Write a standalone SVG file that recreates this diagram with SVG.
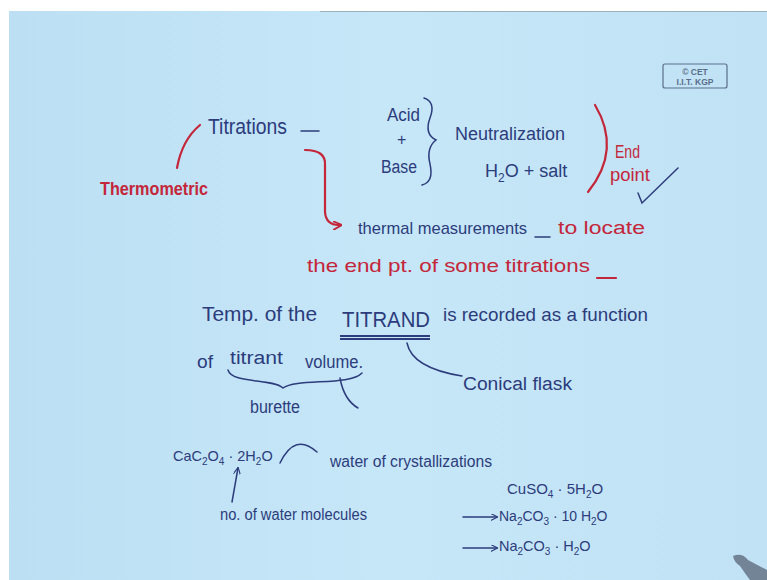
<svg xmlns="http://www.w3.org/2000/svg" width="767" height="580" viewBox="0 0 767 580">
<defs>
<linearGradient id="bg" x1="0" y1="0" x2="1" y2="0">
<stop offset="0" stop-color="#bcdff3"/>
<stop offset="0.5" stop-color="#c6e7f8"/>
<stop offset="1" stop-color="#c0e2f4"/>
</linearGradient>
<marker id="ah" viewBox="0 0 10 10" refX="9" refY="5" markerWidth="7" markerHeight="7" orient="auto" markerUnits="userSpaceOnUse">
<path d="M0,0 L10,5 L0,10" fill="none" stroke="#2c3c7c" stroke-width="1.6"/>
</marker>
<marker id="ahr" viewBox="0 0 10 10" refX="9" refY="5" markerWidth="9" markerHeight="9" orient="auto" markerUnits="userSpaceOnUse">
<path d="M0,0 L10,5 L0,10" fill="none" stroke="#c0283c" stroke-width="2"/>
</marker>
</defs>
<style>
.b{fill:#2c3c7c;font-family:"Liberation Sans",Arial,sans-serif}
.r{fill:#c4263a;font-family:"Liberation Sans",Arial,sans-serif}
.lb{fill:none;stroke:#2c3c7c;stroke-width:1.5;stroke-linecap:round}
.lr{fill:none;stroke:#c4263a;stroke-width:2.2;stroke-linecap:round}
.st{fill:#5a6e8c;font-family:"Liberation Sans",Arial,sans-serif;font-size:8.5px;font-weight:bold;text-anchor:middle}
.sub{font-size:10px}
</style>
<rect width="767" height="580" fill="#ffffff"/>
<rect x="9" y="11" width="758" height="569" fill="url(#bg)"/>
<line x1="320" y1="11.5" x2="767" y2="11.5" stroke="#7f9096" stroke-width="1" opacity="0.6"/>

<g id="stamp">
<rect x="663" y="64" width="64" height="24" rx="2" fill="none" stroke="#5a6e8c" stroke-width="1.2"/>
<text class="st" x="695" y="75">© CET</text>
<text class="st" x="695" y="85">I.I.T. KGP</text>
</g>

<g id="titrations"><text class="b" x="208" y="134" font-size="22" textLength="79" lengthAdjust="spacingAndGlyphs">Titrations</text>
<line class="lb" x1="301" y1="131" x2="319" y2="131"/></g>
<g id="thermometric"><text class="r" x="100" y="195" font-size="19" font-weight="bold" textLength="108" lengthAdjust="spacingAndGlyphs">Thermometric</text></g>
<g id="acidbase">
<text class="b" x="387" y="121" font-size="18" textLength="33" lengthAdjust="spacingAndGlyphs">Acid</text>
<text class="b" x="397" y="145" font-size="16">+</text>
<text class="b" x="381" y="173" font-size="18" textLength="36" lengthAdjust="spacingAndGlyphs">Base</text>
<path class="lb" d="M424,98 Q436,102 430,118 Q424,134 436,140 Q426,148 430,164 Q434,182 422,185"/>
</g>
<g id="neutralization">
<text class="b" x="455" y="140" font-size="18" textLength="110" lengthAdjust="spacingAndGlyphs">Neutralization</text>
<text class="b" x="485" y="177" font-size="18">H<tspan dy="5" font-size="12">2</tspan><tspan dy="-5">O + salt</tspan></text>
</g>
<g id="endpoint">
<path class="lr" d="M595,105 Q622,150 588,192"/>
<text class="r" x="615" y="158" font-size="18" textLength="25" lengthAdjust="spacingAndGlyphs">End</text>
<text class="r" x="610" y="181" font-size="18" textLength="40" lengthAdjust="spacingAndGlyphs">point</text>
<path class="lb" d="M638,193 L642,203 L678,168"/>
</g>
<g id="thermal">
<text class="b" x="358" y="234" font-size="17" textLength="169" lengthAdjust="spacingAndGlyphs">thermal measurements</text>
<line class="lb" x1="535" y1="237" x2="550" y2="237"/>
<text class="r" x="558" y="234" font-size="18" textLength="87" lengthAdjust="spacingAndGlyphs">to locate</text>
<text class="r" x="307" y="272" font-size="19" textLength="283" lengthAdjust="spacingAndGlyphs">the end pt. of some titrations</text>
<line class="lr" x1="597" y1="278" x2="616" y2="278"/>
</g>
<g id="connectors">
<path class="lr" d="M200,125 Q182,140 177,168"/>
<path class="lr" d="M305,150 Q326,150 325,165 L325,212 Q326,226 341,225" marker-end="url(#ahr)"/>
<path class="lb" d="M407,343 Q412,368 462,376"/>
<path class="lb" d="M340,378 Q344,400 358,408"/>
<path class="lb" d="M228,370 C232,384 272,378 283,388 C296,378 350,386 362,373"/>
<path class="lb" d="M280,463 Q295,432 317,452"/>
<line class="lb" x1="232" y1="502" x2="238" y2="468" marker-end="url(#ah)"/>
<line class="lb" x1="463" y1="517" x2="497" y2="517" marker-end="url(#ah)"/>
<line class="lb" x1="463" y1="548" x2="497" y2="548" marker-end="url(#ah)"/>
</g>
<g id="temp">
<text class="b" x="202" y="321" font-size="21" textLength="115" lengthAdjust="spacingAndGlyphs">Temp. of the</text>
<text class="b" x="342" y="327" font-size="22" textLength="88" lengthAdjust="spacingAndGlyphs">TITRAND</text>
<path d="M340,336 L430,336 M340,339 L430,339" stroke="#2c3c7c" stroke-width="2" fill="none"/>
<text class="b" x="443" y="321" font-size="19" textLength="205" lengthAdjust="spacingAndGlyphs">is recorded as a function</text>
<text class="b" x="197" y="368" font-size="19" textLength="16" lengthAdjust="spacingAndGlyphs">of</text>
<text class="b" x="230" y="364" font-size="18" textLength="53" lengthAdjust="spacingAndGlyphs">titrant</text>
<text class="b" x="305" y="368" font-size="18" textLength="58" lengthAdjust="spacingAndGlyphs">volume.</text>
</g>
<g id="burette"><text class="b" x="250" y="413" font-size="18" textLength="50" lengthAdjust="spacingAndGlyphs">burette</text></g>
<g id="flask"><text class="b" x="463" y="390" font-size="18" textLength="109" lengthAdjust="spacingAndGlyphs">Conical flask</text></g>
<g id="oxalate"><text class="b" x="173" y="461" font-size="14.5">CaC<tspan dy="4" class="sub">2</tspan><tspan dy="-4">O</tspan><tspan dy="4" class="sub">4</tspan><tspan dy="-4"> · 2H</tspan><tspan dy="4" class="sub">2</tspan><tspan dy="-4">O</tspan></text></g>
<g id="water"><text class="b" x="330" y="467" font-size="16" textLength="162" lengthAdjust="spacingAndGlyphs">water of crystallizations</text></g>
<g id="molecules"><text class="b" x="220" y="520" font-size="16" textLength="147" lengthAdjust="spacingAndGlyphs">no. of water molecules</text></g>
<g id="hydrates">
<text class="b" x="507" y="494" font-size="15">CuSO<tspan dy="4" class="sub">4</tspan><tspan dy="-4"> · 5H</tspan><tspan dy="4" class="sub">2</tspan><tspan dy="-4">O</tspan></text>
<text class="b" x="499" y="521" font-size="14">Na<tspan dy="4" class="sub">2</tspan><tspan dy="-4">CO</tspan><tspan dy="4" class="sub">3</tspan><tspan dy="-4"> · 10 H</tspan><tspan dy="4" class="sub">2</tspan><tspan dy="-4">O</tspan></text>
<text class="b" x="499" y="551" font-size="14.5">Na<tspan dy="4" class="sub">2</tspan><tspan dy="-4">CO</tspan><tspan dy="4" class="sub">3</tspan><tspan dy="-4"> · H</tspan><tspan dy="4" class="sub">2</tspan><tspan dy="-4">O</tspan></text>
</g>
<path d="M733,556 Q742,552 748,560 L767,570 L767,580 L750,580 Q744,572 740,566 Q734,562 733,556 Z" fill="#5a6478" opacity="0.75"/>
</svg>
